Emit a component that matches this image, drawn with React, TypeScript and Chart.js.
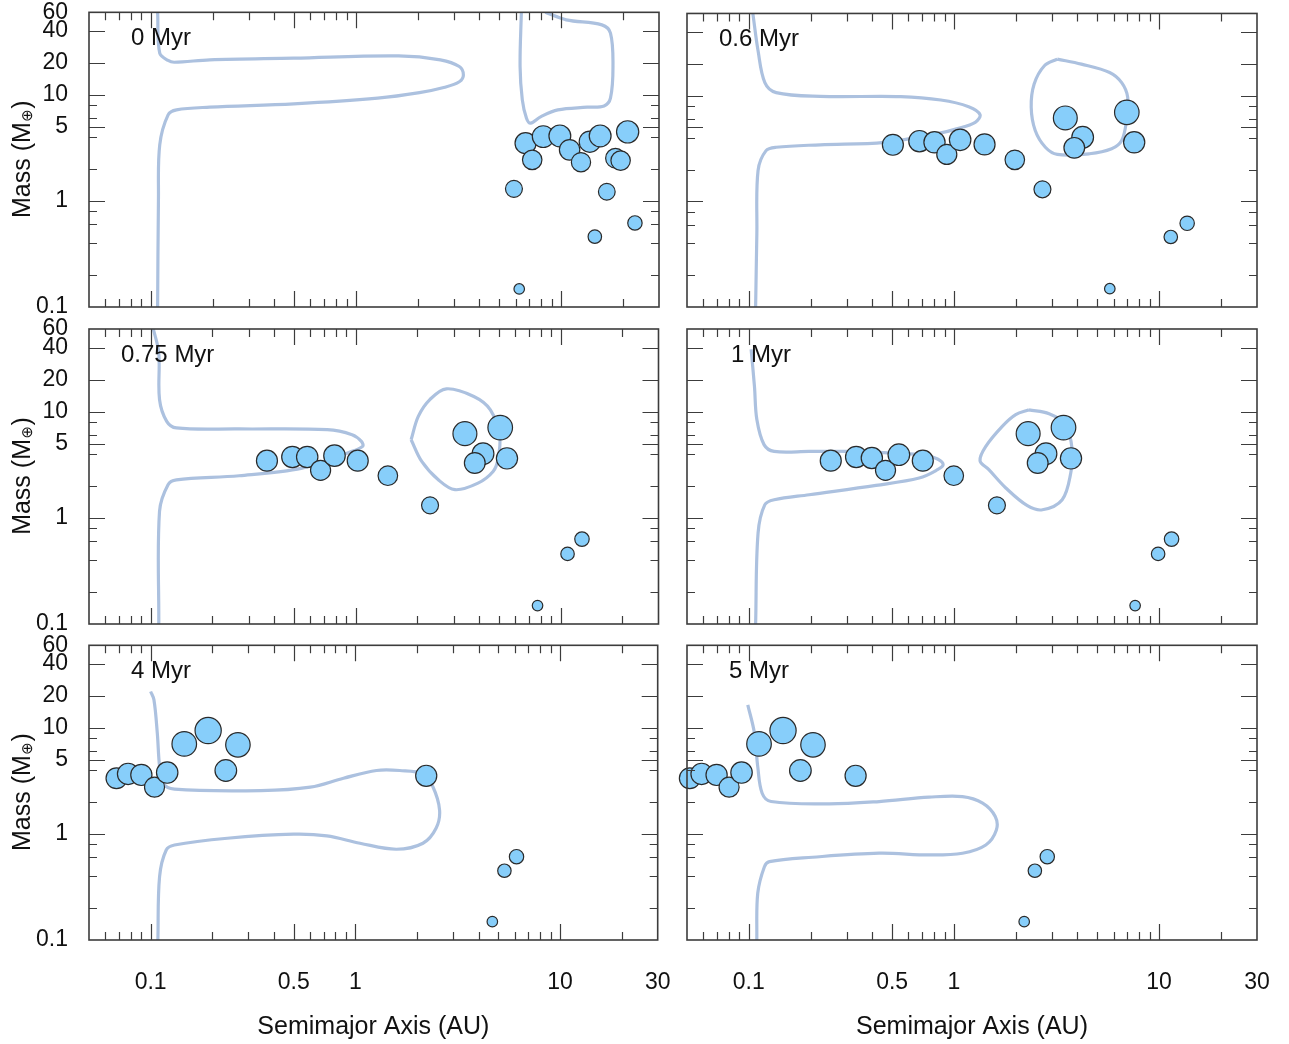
import React, { useEffect, useRef } from 'react';
import { Chart, registerables } from 'chart.js';

Chart.register(...registerables);

// ---------------- data ----------------
const PANEL_TITLES = ['0 Myr', '0.6 Myr', '0.75 Myr', '1 Myr', '4 Myr', '5 Myr'];

// planets: semimajor axis (AU) and mass (Earth masses)
const P0_AU = [6.71, 7.23, 8.18, 9.86, 11.0, 12.5, 13.8, 15.5, 21.1, 18.4, 19.5, 5.89, 16.7, 22.9, 14.6, 6.25];
const P0_MASS = [3.5, 2.44, 4.04, 4.1, 3.03, 2.32, 3.62, 4.1, 4.48, 2.53, 2.4, 1.3, 1.22, 0.62, 0.46, 0.148];

const P1_AU = [0.504, 0.679, 0.804, 0.923, 1.072, 1.41, 1.98, 2.7, 3.49, 4.24, 3.86, 6.96, 7.56, 5.75, 11.4, 13.7];
const P1_MASS = [3.43, 3.71, 3.62, 2.78, 3.82, 3.46, 2.47, 1.3, 6.16, 4.04, 3.21, 6.96, 3.62, 0.149, 0.46, 0.62];

const P2_AU = [0.369, 0.491, 0.58, 0.674, 0.788, 1.023, 1.435, 2.305, 3.41, 5.07, 4.18, 3.81, 5.47, 10.8, 12.7, 7.71];
const P2_MASS = [3.45, 3.74, 3.74, 2.8, 3.85, 3.45, 2.49, 1.31, 6.2, 7.07, 4.02, 3.28, 3.63, 0.457, 0.63, 0.149];

const P3_AU = [0.251, 0.334, 0.398, 0.464, 0.539, 0.705, 0.998, 1.62, 2.3, 3.42, 2.81, 2.56, 3.72, 9.89, 11.5, 7.64];
const P3_MASS = [3.45, 3.74, 3.66, 2.8, 3.93, 3.45, 2.49, 1.31, 6.2, 7.07, 4.02, 3.28, 3.63, 0.457, 0.63, 0.149];

const P4_AU = [0.0681, 0.0776, 0.0901, 0.1045, 0.1205, 0.146, 0.191, 0.267, 0.233, 2.22, 6.13, 5.35, 4.67];
const P4_MASS = [3.35, 3.68, 3.6, 2.76, 3.79, 7.06, 9.43, 6.92, 3.96, 3.53, 0.61, 0.45, 0.149];

const P5_AU = [0.0516, 0.0589, 0.0697, 0.0802, 0.0922, 0.1122, 0.1469, 0.2056, 0.1785, 0.3317, 2.85, 2.48, 2.2];
const P5_MASS = [3.35, 3.68, 3.6, 2.76, 3.79, 7.06, 9.43, 6.92, 3.96, 3.53, 0.61, 0.45, 0.149];

// migration contours: AU / mass
const C0A_AU = [0.108, 0.1106, 0.1215, 0.1303, 0.194, 0.498, 1.614, 2.58, 3.19, 3.34, 3.19, 2.71, 2.04, 1.276, 0.498, 0.194, 0.1335, 0.1215, 0.1106, 0.109, 0.108];
const C0A_MASS = [60, 24.7, 21.1, 20.3, 21.4, 22.2, 23.3, 21.4, 18.5, 15.4, 13.3, 11.8, 10.5, 9.31, 8.22, 7.65, 7.22, 6.48, 3.38, 1.02, 0.1];
const C0B_AU = [6.4, 6.31, 6.47, 6.78, 7.1, 7.98, 9.64, 13.4, 16.2, 17.4, 17.9, 17.4, 15.8, 10.6, 8.37];
const C0B_MASS = [60, 18.5, 8.97, 6.03, 5.41, 6.24, 7.22, 7.65, 7.87, 9.31, 18.5, 38.2, 45.7, 51, 60];

const C1A_AU = [0.1047, 0.111, 0.1198, 0.136, 0.223, 0.55, 0.863, 1.18, 1.34, 1.27, 1.03, 0.863, 0.459, 0.223, 0.136, 0.1214, 0.111, 0.1095, 0.108];
const C1A_MASS = [60, 26.6, 13.3, 10.7, 9.85, 9.8, 9.1, 7.87, 6.62, 5.6, 4.85, 4.45, 3.62, 3.43, 3.25, 3.02, 1.96, 0.496, 0.1];
const C1B_AU = [3.19, 4.18, 5.74, 6.57, 7.03, 6.93, 6.57, 5.87, 4.58, 3.19, 2.79, 2.49, 2.38, 2.46, 2.76, 3.19];
const C1B_MASS = [22.2, 19.9, 16.6, 13.3, 9.64, 5.81, 3.76, 3.14, 2.82, 2.78, 3.25, 4.68, 7.76, 12.9, 19.2, 22.2];

const C2A_AU = [0.103, 0.1095, 0.1104, 0.1197, 0.1335, 0.27, 0.726, 0.96, 1.066, 1.081, 0.925, 0.547, 0.27, 0.1335, 0.1215, 0.1104, 0.1095];
const C2A_MASS = [60, 35.8, 13.0, 8.1, 7.02, 6.87, 6.76, 6.07, 5.25, 4.71, 4.13, 2.94, 2.49, 2.28, 2.05, 1.15, 0.1];
const C2B_AU = [1.864, 2.02, 2.3, 2.77, 3.77, 4.54, 5.04, 4.94, 4.68, 3.95, 3.05, 2.53, 2.1, 1.864];
const C2B_MASS = [5.44, 9.03, 13.0, 16.4, 13.9, 10.4, 5.85, 3.53, 2.73, 2.12, 1.84, 2.28, 3.4, 5.44];

const C3A_AU = [0.1027, 0.1066, 0.1095, 0.1187, 0.133, 0.197, 0.298, 0.703, 0.832, 0.886, 0.832, 0.677, 0.417, 0.197, 0.133, 0.1198, 0.111, 0.108];
const C3A_MASS = [38.5, 17.3, 8.41, 4.89, 4.22, 4.22, 4.22, 3.93, 3.58, 3.16, 2.84, 2.37, 2.02, 1.65, 1.48, 1.33, 0.717, 0.1];
const C3B_AU = [2.32, 2.91, 3.5, 3.77, 3.71, 3.37, 2.7, 2.28, 1.79, 1.48, 1.34, 1.43, 1.72, 2.0, 2.32];
const C3B_MASS = [10.4, 9.57, 7.54, 4.38, 2.64, 1.48, 1.19, 1.3, 1.91, 2.84, 3.45, 4.71, 7.27, 9.37, 10.4];

const C4_AU = [0.1, 0.1038, 0.1078, 0.1106, 0.1147, 0.1308, 0.345, 0.603, 0.875, 1.269, 1.648, 2.14, 2.39, 2.58, 2.48, 2.14, 1.586, 1.054, 0.726, 0.5, 0.237, 0.1308, 0.1192, 0.1106, 0.1085];
const C4_MASS = [22.0, 18.4, 8.9, 4.31, 3.01, 2.64, 2.56, 2.76, 3.35, 3.96, 3.96, 3.68, 2.8, 1.68, 1.13, 0.817, 0.717, 0.817, 0.958, 0.994, 0.911, 0.787, 0.706, 0.396, 0.1];

const C5_AU = [0.0989, 0.1066, 0.1106, 0.1162, 0.1285, 0.247, 0.432, 0.757, 1.1, 1.38, 1.59, 1.61, 1.43, 1.1, 0.757, 0.432, 0.205, 0.126, 0.1192, 0.1106, 0.1094];
const C5_MASS = [16.5, 8.9, 4.31, 2.42, 2.02, 1.92, 2.02, 2.22, 2.25, 1.95, 1.46, 1.09, 0.787, 0.658, 0.634, 0.658, 0.603, 0.548, 0.491, 0.276, 0.1];

// axes
const X_MIN = 0.05;
const X_MAX = 30;
const Y_MIN = 0.1;
const Y_MAX = 60;
const X_TICKS = [0.06, 0.07, 0.08, 0.09, 0.1, 0.2, 0.3, 0.4, 0.5, 0.6, 0.7, 0.8, 0.9, 1, 2, 3, 4, 5, 6, 7, 8, 9, 10, 20, 30];
const X_LABELS = [0.1, 0.5, 1, 10, 30];
const X_LONG = [0.1, 0.5, 1, 10];
const Y_TICKS = [0.1, 0.2, 0.4, 0.6, 0.8, 1, 2, 4, 5, 6, 8, 10, 20, 40, 60];
const Y_LABELS = [0.1, 1, 5, 10, 20, 40, 60];
const Y_LONG = [1, 5, 10, 20, 40];

const PANELS = [
  { au: P0_AU, mass: P0_MASS, contours: [[C0A_AU, C0A_MASS], [C0B_AU, C0B_MASS]] },
  { au: P1_AU, mass: P1_MASS, contours: [[C1A_AU, C1A_MASS], [C1B_AU, C1B_MASS]] },
  { au: P2_AU, mass: P2_MASS, contours: [[C2A_AU, C2A_MASS], [C2B_AU, C2B_MASS]] },
  { au: P3_AU, mass: P3_MASS, contours: [[C3A_AU, C3A_MASS], [C3B_AU, C3B_MASS]] },
  { au: P4_AU, mass: P4_MASS, contours: [[C4_AU, C4_MASS]] },
  { au: P5_AU, mass: P5_MASS, contours: [[C5_AU, C5_MASS]] },
];

// ---------------- styles / layout ----------------
const FONT = '"Liberation Sans", Arial, "DejaVu Sans", sans-serif';
const BUBBLE_FILL = 'rgb(135,206,250)';
const BUBBLE_EDGE = '#2a2a2a';
const CONTOUR = 'rgba(172,193,223,1)';
const FRAME = '#3c3c3c';
const TEXT = '#111111';
const LABEL_DX = [42, 32, 32, 44, 42, 42];

const COLS = [
  { left: 0, width: 672, axisW: 89, padRight: 13 },
  { left: 672, width: 617, axisW: 15, padRight: 32 },
];
const ROWS = [
  { top: 0, padTop: 12, axisH: 14 },
  { top: 315, padTop: 14, axisH: 14 },
  { top: 631, padTop: 14, axisH: 104 },
];
const PLOT_H = 295;

const radiusFor = (m: number) => 8 * Math.pow(m, 0.22);
const near = (list: number[], v: number) => list.some((t) => Math.abs(t - v) < 1e-9 * Math.max(1, t));

const zeroPad = (s: any) => {
  s.paddingTop = 0;
  s.paddingBottom = 0;
  s.paddingLeft = 0;
  s.paddingRight = 0;
};

const decoPlugin = {
  id: 'panelDeco',
  afterDatasetsDraw(chart: any, _args: any, opts: any) {
    const { ctx, chartArea: a, scales } = chart;
    const xs = scales.x;
    const ys = scales.y;
    ctx.save();
    ctx.strokeStyle = FRAME;
    ctx.lineWidth = 1.2;
    ctx.beginPath();
    for (const v of X_TICKS) {
      if (v >= X_MAX) continue;
      const px = Math.round(xs.getPixelForValue(v)) + 0.5;
      const len = near(X_LONG, v) ? 16 : 8;
      ctx.moveTo(px, a.bottom);
      ctx.lineTo(px, a.bottom - len);
      ctx.moveTo(px, a.top);
      ctx.lineTo(px, a.top + len);
    }
    for (const v of Y_TICKS) {
      if (v <= Y_MIN || v >= Y_MAX) continue;
      const py = Math.round(ys.getPixelForValue(v)) + 0.5;
      const len = near(Y_LONG, v) ? 16 : 8;
      ctx.moveTo(a.left, py);
      ctx.lineTo(a.left + len, py);
      ctx.moveTo(a.right, py);
      ctx.lineTo(a.right - len, py);
    }
    ctx.stroke();
    ctx.lineWidth = 1.6;
    ctx.strokeRect(a.left, a.top, a.right - a.left, a.bottom - a.top);

    ctx.fillStyle = TEXT;
    ctx.font = `24px ${FONT}`;
    ctx.textAlign = 'left';
    ctx.textBaseline = 'middle';
    ctx.fillText(opts.title, a.left + opts.dx, a.top + 26);

    if (opts.yTitle) {
      const cy = (a.top + a.bottom) / 2;
      ctx.translate(30, cy);
      ctx.rotate(-Math.PI / 2);
      ctx.textBaseline = 'alphabetic';
      const big = `25px ${FONT}`;
      const small = `15px ${FONT}`;
      ctx.font = big;
      const w1 = ctx.measureText('Mass (M').width;
      const w3 = ctx.measureText(')').width;
      ctx.font = small;
      const w2 = ctx.measureText('⊕').width;
      const x0 = -(w1 + w2 + w3) / 2;
      ctx.font = big;
      ctx.fillText('Mass (M', x0, 0);
      ctx.font = small;
      ctx.fillText('⊕', x0 + w1 + 0.5, 2);
      ctx.font = big;
      ctx.fillText(')', x0 + w1 + w2 + 1, 0);
    }
    ctx.restore();
  },
};

function makeConfig(idx: number): any {
  const col = idx % 2;
  const row = Math.floor(idx / 2);
  const c = COLS[col];
  const r = ROWS[row];
  const p = PANELS[idx];
  const showX = row === 2;
  const showY = col === 0;
  const tickFont = { family: FONT, size: 23 };

  const datasets: any[] = [
    {
      type: 'bubble',
      data: p.au.map((a, i) => ({ x: a, y: p.mass[i], r: radiusFor(p.mass[i]) })),
      backgroundColor: BUBBLE_FILL,
      borderColor: BUBBLE_EDGE,
      borderWidth: 1.2,
      clip: false,
      order: 0,
    },
    ...p.contours.map(([au, mass]) => ({
      type: 'line',
      data: au.map((a, i) => ({ x: a, y: mass[i] })),
      borderColor: CONTOUR,
      borderWidth: 3.2,
      pointRadius: 0,
      tension: 0.35,
      fill: false,
      order: 1,
    })),
  ];

  return {
    type: 'bubble',
    data: { datasets },
    options: {
      responsive: false,
      animation: false,
      events: [],
      layout: { padding: { top: r.padTop, right: c.padRight, left: 0, bottom: 0 } },
      plugins: {
        legend: { display: false },
        tooltip: { enabled: false },
        panelDeco: { title: PANEL_TITLES[idx], dx: LABEL_DX[idx], yTitle: showY },
      },
      scales: {
        x: {
          type: 'logarithmic',
          position: 'bottom',
          min: X_MIN,
          max: X_MAX,
          bounds: 'data',
          afterBuildTicks: (s: any) => {
            s.ticks = X_TICKS.map((v) => ({ value: v }));
          },
          afterFit: (s: any) => {
            s.height = r.axisH;
            zeroPad(s);
          },
          grid: { display: false, drawTicks: false },
          border: { display: false },
          ticks: {
            display: showX,
            autoSkip: false,
            maxRotation: 0,
            minRotation: 0,
            padding: 29,
            color: TEXT,
            font: tickFont,
            callback: (v: number) => (near(X_LABELS, v) ? String(v) : ''),
          },
          title: {
            display: showX,
            text: 'Semimajor Axis (AU)',
            color: TEXT,
            font: { family: FONT, size: 25 },
            padding: { top: 0, bottom: 2 },
          },
        },
        y: {
          type: 'logarithmic',
          position: 'left',
          min: Y_MIN,
          max: Y_MAX,
          bounds: 'data',
          afterBuildTicks: (s: any) => {
            s.ticks = Y_TICKS.map((v) => ({ value: v }));
          },
          afterFit: (s: any) => {
            s.width = c.axisW;
            zeroPad(s);
          },
          grid: { display: false, drawTicks: false },
          border: { display: false },
          ticks: {
            display: showY,
            autoSkip: false,
            padding: 21,
            color: TEXT,
            font: tickFont,
            callback: (v: number) => (near(Y_LABELS, v) ? String(v) : ''),
          },
          title: { display: false },
        },
      },
    },
    plugins: [decoPlugin],
  };
}

function Panel({ idx }: { idx: number }) {
  const ref = useRef<HTMLCanvasElement>(null);
  const col = idx % 2;
  const row = Math.floor(idx / 2);
  const c = COLS[col];
  const r = ROWS[row];
  const height = r.padTop + PLOT_H + r.axisH;

  useEffect(() => {
    if (!ref.current) return;
    const chart = new Chart(ref.current, makeConfig(idx));
    return () => chart.destroy();
  }, [idx]);

  return (
    <canvas
      ref={ref}
      width={c.width}
      height={height}
      style={{ position: 'absolute', left: c.left, top: r.top, width: c.width, height }}
    />
  );
}

export default function App() {
  return (
    <div
      style={{
        position: 'absolute',
        left: 0,
        top: 0,
        width: 1289,
        height: 1044,
        overflow: 'hidden',
        background: '#ffffff',
      }}
    >
      {PANEL_TITLES.map((_, i) => (
        <Panel key={i} idx={i} />
      ))}
    </div>
  );
}
